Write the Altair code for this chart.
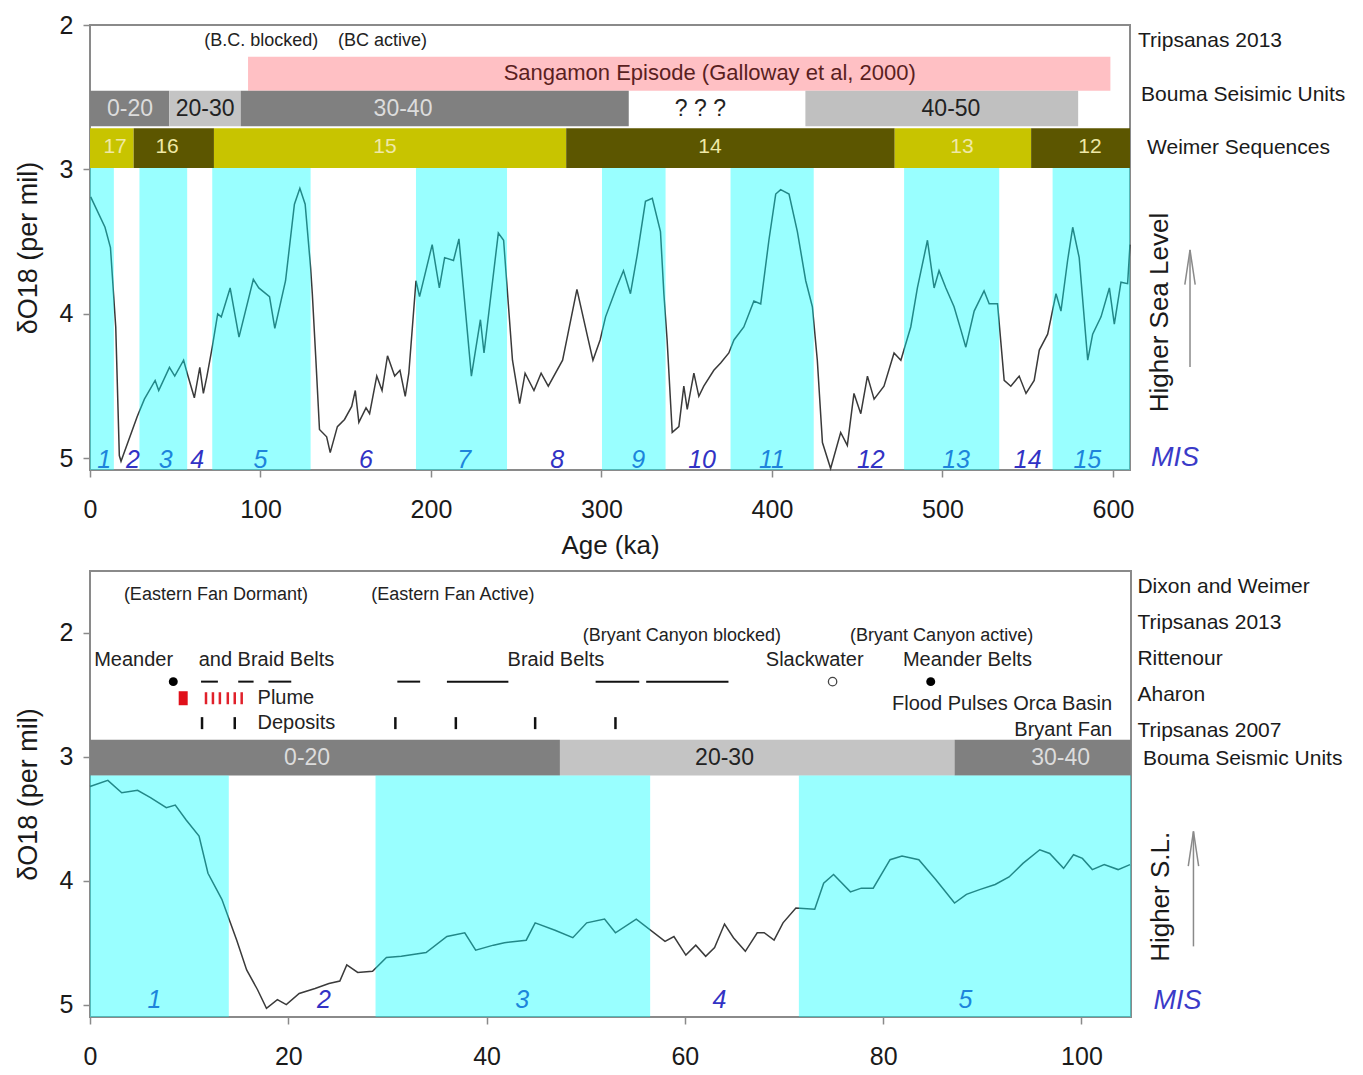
import altair as alt
import pandas as pd

FONT = "Liberation Sans"

# ---------------- upper panel data (0-610 ka) ----------------
top_age = [0.4, 8.8, 12.0, 15.1, 17.2, 18.2, 27.7, 31.9, 38.2, 40.3,
           46.6, 49.7, 54.9, 57.0, 61.2, 64.4, 66.5, 68.6, 71.7, 74.9,
           77.0, 82.2, 87.4, 95.8, 99.0, 105.3, 108.4, 114.7, 119.9, 123.1,
           126.2, 129.4, 130.4, 132.5, 134.6, 138.8, 140.9, 145.1, 149.3, 153.5,
           155.6, 157.7, 161.9, 164.0, 168.2, 171.3, 174.5, 178.7, 181.8, 184.9,
           187.0, 191.2, 193.3, 200.7, 204.9, 208.0, 213.2, 216.4, 223.7, 229.0,
           231.1, 239.5, 242.6, 247.8, 252.0, 255.2, 260.4, 264.6, 268.8, 277.2,
           280.3, 285.6, 291.9, 295.0, 299.2, 302.4, 308.7, 312.9, 317.0, 321.0,
           325.8, 329.8, 334.6, 336.6, 338.5, 341.5, 345.4, 348.3, 350.3, 354.2,
           357.1, 360.0, 365.9, 369.9, 374.7, 377.7, 383.5, 389.4, 393.4, 398.2,
           402.2, 405.1, 410.0, 414.9, 419.8, 423.7, 426.6, 429.6, 434.4, 440.3,
           444.2, 448.1, 452.1, 456.0, 459.9, 465.7, 471.6, 475.6, 481.4, 485.3,
           491.2, 495.1, 498.0, 502.0, 506.8, 510.8, 513.7, 518.6, 524.4, 527.4,
           532.3, 536.2, 540.1, 545.0, 549.0, 553.8, 556.8, 561.7, 566.6, 569.5,
           573.4, 576.4, 580.2, 585.2, 588.1, 593.0, 597.9, 600.8, 604.7, 608.6,
           610.0]
top_d18o = [3.19, 3.40, 3.54, 4.09, 4.98, 5.02, 4.71, 4.59, 4.46, 4.53,
            4.37, 4.43, 4.32, 4.41, 4.58, 4.37, 4.55, 4.43, 4.23, 4.00,
            4.02, 3.82, 4.16, 3.76, 3.82, 3.88, 4.10, 3.77, 3.24, 3.13,
            3.24, 3.68, 3.86, 4.32, 4.80, 4.85, 4.96, 4.78, 4.73, 4.64,
            4.53, 4.75, 4.65, 4.69, 4.43, 4.53, 4.29, 4.43, 4.39, 4.57,
            4.41, 3.77, 3.88, 3.52, 3.82, 3.61, 3.63, 3.48, 4.43, 4.04,
            4.27, 3.44, 3.49, 4.32, 4.62, 4.41, 4.53, 4.41, 4.50, 4.32,
            4.14, 3.83, 4.16, 4.32, 4.18, 4.02, 3.82, 3.70, 3.86, 3.59,
            3.22, 3.20, 3.43, 3.86, 4.18, 4.82, 4.78, 4.50, 4.66, 4.41,
            4.57, 4.50, 4.39, 4.34, 4.27, 4.18, 4.09, 3.91, 3.93, 3.49,
            3.17, 3.14, 3.17, 3.43, 3.77, 3.95, 4.32, 4.89, 5.07, 4.82,
            4.91, 4.55, 4.69, 4.43, 4.59, 4.50, 4.27, 4.32, 4.09, 3.82,
            3.49, 3.82, 3.70, 3.82, 3.95, 4.11, 4.23, 3.98, 3.84, 3.93,
            3.93, 4.46, 4.50, 4.43, 4.55, 4.46, 4.25, 4.14, 3.86, 3.98,
            3.63, 3.40, 3.61, 4.32, 4.14, 4.02, 3.82, 4.07, 3.78, 3.79,
            3.52]

top_band_start = [0, 29, 71.7, 191.2, 300.3, 375.7, 477.5, 564.6]
top_band_end = [14, 57, 129.4, 244.6, 337.6, 424.5, 533.3, 610]
top_mis_label = ["1", "2", "3", "4", "5", "6", "7", "8", "9", "10", "11", "12", "13", "14", "15"]
top_mis_x = [8.4, 25.2, 44.4, 62.9, 100, 161.9, 219.5, 274, 321.5, 359, 400, 458, 508, 550, 585]

weimer_start = [0, 25.6, 72.7, 279.3, 472, 552]
weimer_end = [25.6, 72.7, 279.3, 472, 552, 610]
weimer_label = ["17", "16", "15", "14", "13", "12"]
weimer_label_x = [14.7, 45.2, 173, 363.6, 511.4, 586.5]
weimer_color = ["#c8c400", "#5c5600", "#c8c400", "#5c5600", "#c8c400", "#5c5600"]

bouma_top_start = [0, 46.5, 88.4, 419.6]
bouma_top_end = [46.5, 88.4, 316, 579.6]
bouma_top_color = ["#808080", "#c4c4c4", "#808080", "#c0c0c0"]
bouma_top_label = ["0-20", "20-30", "30-40", "? ? ?", "40-50"]
bouma_top_label_x = [23.5, 67.5, 183.6, 358, 505]
bouma_top_text_color = ["#dcdcdc", "#222222", "#dcdcdc", "#222222", "#222222"]

sangamon = ("Sangamon Episode (Galloway et al, 2000)", 92.7, 598.5, 363.5)
bc_notes = ["(B.C. blocked)", "(BC active)"]
bc_notes_x = [100.5, 171.6]

top_side_labels = ["Tripsanas 2013", "Bouma Seisimic Units", "Weimer Sequences"]
top_side_x = [614.7, 616.5, 620]
top_side_y = [2.11, 2.485, 2.85]

# ---------------- lower panel data (0-105 ka) ----------------
bot_age = [0.0, 1.8, 3.2, 4.8, 6.1, 7.7, 8.6, 9.7, 11.0, 11.9,
           13.3, 14.8, 15.8, 16.9, 17.8, 18.9, 19.8, 21.1, 22.7, 24.1,
           25.2, 25.9, 27.0, 28.5, 29.9, 31.4, 33.9, 36.0, 37.8, 38.9,
           40.7, 41.8, 44.0, 44.9, 46.9, 48.7, 50.1, 51.9, 53.0, 55.1,
           58.0, 58.9, 60.1, 61.1, 62.1, 63.0, 64.0, 64.9, 66.1, 67.3,
           68.0, 69.0, 69.9, 71.2, 73.1, 74.0, 75.0, 76.7, 77.8, 79.0,
           80.7, 81.9, 83.6, 85.3, 87.2, 88.4, 89.8, 91.3, 92.7, 94.1,
           95.8, 96.8, 98.2, 99.2, 100.1, 101.1, 102.3, 103.7, 104.9]
bot_d18o = [3.24, 3.19, 3.29, 3.27, 3.33, 3.41, 3.39, 3.51, 3.64, 3.94,
            4.15, 4.48, 4.72, 4.88, 5.03, 4.96, 5.00, 4.91, 4.87, 4.83,
            4.81, 4.68, 4.74, 4.73, 4.62, 4.61, 4.58, 4.45, 4.42, 4.56,
            4.52, 4.50, 4.48, 4.34, 4.40, 4.46, 4.34, 4.31, 4.42, 4.31,
            4.49, 4.45, 4.60, 4.52, 4.61, 4.54, 4.35, 4.46, 4.57, 4.42,
            4.42, 4.48, 4.34, 4.22, 4.23, 4.02, 3.95, 4.09, 4.06, 4.06,
            3.83, 3.80, 3.83, 3.99, 4.18, 4.11, 4.07, 4.03, 3.97, 3.86,
            3.75, 3.78, 3.90, 3.79, 3.82, 3.91, 3.87, 3.91, 3.87]

bot_band_start = [0, 28.8, 71.5]
bot_band_end = [14, 56.5, 105]
bot_mis_label = ["1", "2", "3", "4", "5"]
bot_mis_x = [6.5, 23.6, 43.6, 63.5, 88.3]

bouma_bot_start = [0, 47.4, 87.2]
bouma_bot_end = [47.4, 87.2, 105]
bouma_bot_color = ["#808080", "#c4c4c4", "#808080"]
bouma_bot_label = ["0-20", "20-30", "30-40"]
bouma_bot_label_x = [21.9, 64.0, 97.9]
bouma_bot_text_color = ["#dcdcdc", "#222222", "#dcdcdc"]

paren_notes = ["(Eastern Fan Dormant)", "(Eastern Fan Active)", "(Bryant Canyon blocked)", "(Bryant Canyon active)"]
paren_x = [12.7, 36.6, 59.7, 85.9]
paren_y = [1.694, 1.694, 2.024, 2.024]

belt_labels = ["Meander", "and Braid Belts", "Braid Belts", "Slackwater", "Meander Belts"]
belt_x = [4.4, 17.8, 47.0, 73.1, 88.5]

belt_dash_start = [11.2, 14.95, 18.0, 31.0, 36.0, 51.0, 56.1]
belt_dash_end = [12.9, 16.5, 20.3, 33.3, 42.2, 55.4, 64.4]
filled_dots_x = [8.4, 84.8]
open_dot_x = [74.9]
red_square_x = [9.4]
red_dash_x = [11.7, 12.4, 13.1, 13.9, 14.6, 15.3]
deposit_tick_x = [11.3, 14.6, 30.8, 36.9, 44.9, 53.0]

bot_side_labels = ["Dixon and Weimer", "Tripsanas 2013", "Rittenour", "Aharon", "Tripsanas 2007", "Bouma Seismic Units"]
bot_side_x = [105.65, 105.65, 105.65, 105.65, 105.65, 106.2]
bot_side_y = [1.63, 1.92, 2.21, 2.50, 2.79, 3.02]

# ---------------- scales & axes ----------------
YTITLE = "δO18 (per mil)"
TOP_X = (alt.Scale(domain=[0, 610], nice=False, zero=False),
         alt.Axis(values=[0, 100, 200, 300, 400, 500, 600], format="d", title="Age (ka)"))
TOP_Y = (alt.Scale(domain=[2, 5.08], reverse=True, nice=False, zero=False),
         alt.Axis(values=[2, 3, 4, 5], format="d", title=YTITLE))
BOT_X = (alt.Scale(domain=[0, 105], nice=False, zero=False),
         alt.Axis(values=[0, 20, 40, 60, 80, 100], format="d", title=None))
BOT_Y = (alt.Scale(domain=[1.5, 5.1], reverse=True, nice=False, zero=False),
         alt.Axis(values=[2, 3, 4, 5], format="d", title=YTITLE))

CYAN_ALPHA = 0.4


def X(field, sx):
    return alt.X(f"{field}:Q", scale=sx[0], axis=sx[1], title=sx[1].title)


def Y(field, sy):
    return alt.Y(f"{field}:Q", scale=sy[0], axis=sy[1], title=sy[1].title)


def rects(df, sx, sy, opacity=1.0):
    return alt.Chart(df).mark_rect(opacity=opacity).encode(
        x=X("x", sx), x2="x2:Q", y=Y("y", sy), y2="y2:Q",
        color=alt.Color("c:N", scale=None))


def texts(df, sx, sy, **kw):
    props = dict(font=FONT, fontSize=20, baseline="middle", align="center")
    props.update(kw)
    return alt.Chart(df).mark_text(**props).encode(
        x=X("x", sx), y=Y("y", sy), text="t:N",
        color=alt.Color("c:N", scale=None))


def arrow(sx, sy, xval, y_tip, y_bottom, y_head):
    shaft = alt.Chart(pd.DataFrame({"x": [xval], "y": [y_tip], "y2": [y_bottom]})).mark_rule(
        color="#8a8a8a", strokeWidth=1.5).encode(x=X("x", sx), y=Y("y", sy), y2="y2:Q")
    head = alt.Chart(pd.DataFrame({"x": [xval], "y": [y_head]})).mark_point(
        shape="M-0.3,1L0,-1L0.3,1", filled=False, stroke="#8a8a8a", strokeWidth=1.5,
        size=1200, opacity=1).encode(x=X("x", sx), y=Y("y", sy))
    return [shaft, head]


# ================= upper panel =================
top_line_df = pd.DataFrame({"x": top_age, "y": top_d18o})
top_line = alt.Chart(top_line_df).mark_line(color="#3a3a3a", strokeWidth=1.5).encode(
    x=X("x", TOP_X), y=Y("y", TOP_Y))

pink_df = pd.DataFrame({"x": [sangamon[1]], "x2": [sangamon[2]], "y": [2.22], "y2": [2.455], "c": ["#ffc0c4"]})
bouma_top_df = pd.DataFrame({"x": bouma_top_start, "x2": bouma_top_end,
                             "y": [2.455] * 4, "y2": [2.70] * 4, "c": bouma_top_color})
weimer_df = pd.DataFrame({"x": weimer_start, "x2": weimer_end,
                          "y": [2.715] * 6, "y2": [2.99] * 6, "c": weimer_color})
top_band_df = pd.DataFrame({"x": top_band_start, "x2": top_band_end,
                            "y": [2.99] * 8, "y2": [5.08] * 8, "c": ["#00ffff"] * 8})

sang_txt = pd.DataFrame({"x": [sangamon[3]], "y": [2.335], "t": [sangamon[0]], "c": ["#5a1f1f"]})
bc_txt = pd.DataFrame({"x": bc_notes_x, "y": [2.11, 2.11], "t": bc_notes, "c": ["#222222"] * 2})
bouma_top_txt = pd.DataFrame({"x": bouma_top_label_x, "y": [2.58] * 5, "t": bouma_top_label,
                              "c": bouma_top_text_color})
weimer_txt = pd.DataFrame({"x": weimer_label_x, "y": [2.845] * 6, "t": weimer_label, "c": ["#efe9a6"] * 6})
top_mis_txt = pd.DataFrame({"x": top_mis_x, "y": [5.01] * 15, "t": top_mis_label, "c": ["#3232c4"] * 15})
top_side_txt = pd.DataFrame({"x": top_side_x, "y": top_side_y, "t": top_side_labels, "c": ["#1a1a1a"] * 3})
top_hsl_txt = pd.DataFrame({"x": [627.6], "y": [3.99], "t": ["Higher Sea Level"], "c": ["#1a1a1a"]})
top_mislab_txt = pd.DataFrame({"x": [636.4], "y": [5.0], "t": ["MIS"], "c": ["#3a3ac8"]})

top_layers = [
    top_line,
    rects(pink_df, TOP_X, TOP_Y),
    rects(bouma_top_df, TOP_X, TOP_Y),
    rects(weimer_df, TOP_X, TOP_Y),
    texts(sang_txt, TOP_X, TOP_Y, fontSize=22),
    texts(bc_txt, TOP_X, TOP_Y, fontSize=18),
    texts(bouma_top_txt, TOP_X, TOP_Y, fontSize=23),
    texts(weimer_txt, TOP_X, TOP_Y, fontSize=21),
    texts(top_mis_txt, TOP_X, TOP_Y, fontSize=25, fontStyle="italic"),
    rects(top_band_df, TOP_X, TOP_Y, opacity=CYAN_ALPHA),
    texts(top_side_txt, TOP_X, TOP_Y, fontSize=21, align="left"),
    texts(top_hsl_txt, TOP_X, TOP_Y, fontSize=26, angle=270),
    texts(top_mislab_txt, TOP_X, TOP_Y, fontSize=27, fontStyle="italic"),
] + arrow(TOP_X, TOP_Y, 645.2, 3.557, 4.367, 3.677)

top_chart = alt.layer(*top_layers).properties(width=1040, height=445)

# ================= lower panel =================
bot_line_df = pd.DataFrame({"x": bot_age, "y": bot_d18o})
bot_line = alt.Chart(bot_line_df).mark_line(color="#3a3a3a", strokeWidth=1.5).encode(
    x=X("x", BOT_X), y=Y("y", BOT_Y))

bouma_bot_df = pd.DataFrame({"x": bouma_bot_start, "x2": bouma_bot_end,
                             "y": [2.863] * 3, "y2": [3.15] * 3, "c": bouma_bot_color})
bot_band_df = pd.DataFrame({"x": bot_band_start, "x2": bot_band_end,
                            "y": [3.15] * 3, "y2": [5.1] * 3, "c": ["#00ffff"] * 3})

bouma_bot_txt = pd.DataFrame({"x": bouma_bot_label_x, "y": [3.01] * 3, "t": bouma_bot_label,
                              "c": bouma_bot_text_color})
paren_txt = pd.DataFrame({"x": paren_x, "y": paren_y, "t": paren_notes, "c": ["#222222"] * 4})
belt_txt = pd.DataFrame({"x": belt_x, "y": [2.218] * 5, "t": belt_labels, "c": ["#222222"] * 5})
left_txt = pd.DataFrame({"x": [16.9, 16.9], "y": [2.527, 2.728], "t": ["Plume", "Deposits"],
                         "c": ["#222222"] * 2})
right_txt = pd.DataFrame({"x": [103.1, 103.1], "y": [2.573, 2.782], "t": ["Flood Pulses Orca Basin", "Bryant Fan"],
                          "c": ["#222222"] * 2})
bot_mis_txt = pd.DataFrame({"x": bot_mis_x, "y": [4.96] * 5, "t": bot_mis_label, "c": ["#3232c4"] * 5})
bot_side_txt = pd.DataFrame({"x": bot_side_x, "y": bot_side_y, "t": bot_side_labels, "c": ["#1a1a1a"] * 6})
bot_hsl_txt = pd.DataFrame({"x": [108.0], "y": [4.13], "t": ["Higher S.L."], "c": ["#1a1a1a"]})
bot_mislab_txt = pd.DataFrame({"x": [109.7], "y": [4.97], "t": ["MIS"], "c": ["#3a3ac8"]})

dash_df = pd.DataFrame({"x": belt_dash_start, "x2": belt_dash_end, "y": [2.393] * len(belt_dash_start)})
dashes = alt.Chart(dash_df).mark_rule(color="#111111", strokeWidth=2).encode(
    x=X("x", BOT_X), x2="x2:Q", y=Y("y", BOT_Y))

fdots = alt.Chart(pd.DataFrame({"x": filled_dots_x, "y": [2.393] * 2})).mark_point(
    filled=True, color="#000000", size=80, opacity=1).encode(x=X("x", BOT_X), y=Y("y", BOT_Y))
odot = alt.Chart(pd.DataFrame({"x": open_dot_x, "y": [2.393]})).mark_point(
    filled=False, color="#444444", size=70, strokeWidth=1.3, opacity=1).encode(x=X("x", BOT_X), y=Y("y", BOT_Y))
rsq = alt.Chart(pd.DataFrame({"x": red_square_x, "y": [2.527]})).mark_tick(
    orient="vertical", color="#e0101a", size=14, thickness=9, opacity=1).encode(x=X("x", BOT_X), y=Y("y", BOT_Y))
rdash = alt.Chart(pd.DataFrame({"x": red_dash_x, "y": [2.527] * len(red_dash_x)})).mark_tick(
    orient="vertical", color="#e0202a", size=12, thickness=2.5, opacity=1).encode(x=X("x", BOT_X), y=Y("y", BOT_Y))
dticks = alt.Chart(pd.DataFrame({"x": deposit_tick_x, "y": [2.728] * len(deposit_tick_x)})).mark_tick(
    orient="vertical", color="#111111", size=12, thickness=2.5, opacity=1).encode(x=X("x", BOT_X), y=Y("y", BOT_Y))

bot_layers = [
    bot_line,
    rects(bouma_bot_df, BOT_X, BOT_Y),
    texts(bouma_bot_txt, BOT_X, BOT_Y, fontSize=23),
    texts(paren_txt, BOT_X, BOT_Y, fontSize=18),
    texts(belt_txt, BOT_X, BOT_Y, fontSize=20),
    texts(left_txt, BOT_X, BOT_Y, fontSize=20, align="left"),
    texts(right_txt, BOT_X, BOT_Y, fontSize=20, align="right"),
    dashes, fdots, odot, rsq, rdash, dticks,
    texts(bot_mis_txt, BOT_X, BOT_Y, fontSize=25, fontStyle="italic"),
    rects(bot_band_df, BOT_X, BOT_Y, opacity=CYAN_ALPHA),
    texts(bot_side_txt, BOT_X, BOT_Y, fontSize=21, align="left"),
    texts(bot_hsl_txt, BOT_X, BOT_Y, fontSize=26, angle=270),
    texts(bot_mislab_txt, BOT_X, BOT_Y, fontSize=27, fontStyle="italic"),
] + arrow(BOT_X, BOT_Y, 111.3, 3.602, 4.53, 3.742)

bot_chart = alt.layer(*bot_layers).properties(width=1041, height=446)

chart = alt.vconcat(top_chart, bot_chart, spacing=11).properties(
    padding={"left": 5, "top": 4, "right": 5, "bottom": 5}
).configure_view(
    stroke="#8a8a8a", strokeWidth=2
).configure_axis(
    labelFont=FONT, titleFont=FONT, labelFontSize=25, titleFontSize=27,
    labelColor="#1a1a1a", titleColor="#1a1a1a", titleFontWeight="normal",
    domain=False, grid=False, tickColor="#8a8a8a", tickSize=7, tickWidth=1.5,
    labelFlush=False
).configure_axisY(
    labelPadding=10, titlePadding=17
).configure_axisX(
    labelPadding=20, titlePadding=10, titleFontSize=26
)

chart.save("out.html", embed_options={"renderer": "svg", "actions": False})
